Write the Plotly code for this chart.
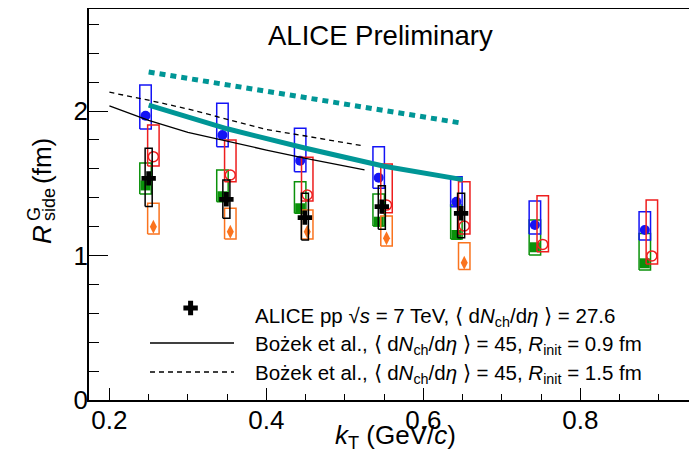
import plotly.graph_objects as go

# ---------------- data ----------------
kt_a = [0.246, 0.344, 0.443, 0.543, 0.642, 0.742, 0.882]   # blue / green
kt_b = [0.256, 0.354, 0.452, 0.553, 0.652, 0.752, 0.891]   # red / orange
kt_alice = [0.250, 0.349, 0.449, 0.547, 0.648]

r_blue = [1.967, 1.834, 1.656, 1.538, 1.372, 1.211, 1.176]
lo_blue = [1.875, 1.753, 1.580, 1.465, 1.338, 1.149, 1.107]
hi_blue = [2.180, 2.053, 1.880, 1.753, 1.545, 1.377, 1.303]

r_red = [1.684, 1.557, 1.419, 1.349, 1.204, 1.077, 0.997]
lo_red = [1.619, 1.511, 1.377, 1.296, 1.149, 1.026, 0.941]
hi_red = [1.903, 1.799, 1.680, 1.633, 1.511, 1.414, 1.384]

r_green = [1.485, 1.410, 1.327, 1.234, 1.142, 1.057, 0.946]
lo_green = [1.426, 1.372, 1.292, 1.204, 1.114, 1.003, 0.900]
hi_green = [1.640, 1.592, 1.511, 1.426, 1.349, 1.246, 1.153]

r_orange = [1.199, 1.165, 1.165, 1.119, 0.950]
lo_orange = [1.149, 1.114, 1.114, 1.066, 0.904]
hi_orange = [1.361, 1.327, 1.315, 1.273, 1.089]

r_alice = [1.534, 1.389, 1.262, 1.338, 1.292]
lo_alice = [1.340, 1.257, 1.107, 1.181, 1.123]
hi_alice = [1.742, 1.522, 1.430, 1.483, 1.430]

kt_bozek = [0.200, 0.250, 0.300, 0.350, 0.400, 0.450, 0.500, 0.525]
r_bozek_09 = [2.035, 1.935, 1.852, 1.790, 1.730, 1.672, 1.617, 1.592]
r_bozek_15 = [2.130, 2.075, 2.014, 1.945, 1.872, 1.827, 1.780, 1.757]

kt_model = [0.25, 0.35, 0.45, 0.55, 0.65]
r_teal_solid = [2.040, 1.877, 1.742, 1.618, 1.525]
r_teal_dot = [2.270, 2.180, 2.090, 2.000, 1.915]

x_ticks = [0.2, 0.4, 0.6, 0.8]
x_ticktext = ["0.2", "0.4", "0.6", "0.8"]
y_ticks = [0, 1, 2]
y_ticktext = ["0", "1", "2"]

title_text = "ALICE Preliminary"
legend_texts = [
    "ALICE pp √<i>s</i> = 7 TeV, ⟨ d<i>N</i><sub>ch</sub>/d<i>η</i> ⟩ = 27.6",
    "Bożek et al., ⟨ d<i>N</i><sub>ch</sub>/d<i>η</i> ⟩ = 45, <i>R</i><sub>init</sub> = 0.9 fm",
    "Bożek et al., ⟨ d<i>N</i><sub>ch</sub>/d<i>η</i> ⟩ = 45, <i>R</i><sub>init</sub> = 1.5 fm",
]

# ---------------- layout constants ----------------
OFF = 8                      # page body margin
W, H = 697 - OFF, 451 - OFF
ML, MR, MT, MB = 89 - OFF, 0, 9 - OFF, 51
PW, PH = W - ML - MR, H - MT - MB
FONT = "Liberation Sans, Arial, sans-serif"

BLUE = "rgb(20,20,245)"
RED = "rgb(238,30,30)"
GREEN = "rgb(10,145,10)"
ORANGE = "rgb(250,115,30)"
TEAL = "rgb(0,150,150)"


def pxx(x):
    """reference-picture pixel x -> paper coordinate"""
    return (x - OFF - ML) / PW


def pxy(y):
    """reference-picture pixel y -> paper coordinate"""
    return (H - MB - (y - OFF)) / PH


def box_path(xs, lo, hi, hw):
    X, Y = [], []
    for x, l, h in zip(xs, lo, hi):
        X += [x - hw, x + hw, x + hw, x - hw, x - hw, None]
        Y += [l, l, h, h, l, None]
    return X, Y


fig = go.Figure()


def add_series(xs, ys, lo, hi, color, symbol, size, hw, open_marker=False):
    bx, by = box_path(xs[:len(ys)], lo, hi, hw)
    fig.add_trace(go.Scatter(x=bx, y=by, mode="lines",
                             line=dict(color=color, width=1.5),
                             hoverinfo="skip", showlegend=False))
    marker = dict(symbol=symbol, size=size, color=color)
    if open_marker:
        marker["line"] = dict(color=color, width=1.5)
    else:
        marker["line"] = dict(width=0)
    fig.add_trace(go.Scatter(x=xs[:len(ys)], y=ys, mode="markers",
                             marker=marker, showlegend=False))


add_series(kt_a, r_green, lo_green, hi_green, GREEN, "square", 10, 0.0073)
add_series(kt_a, r_blue, lo_blue, hi_blue, BLUE, "circle", 10, 0.0073)
add_series(kt_b, r_red, lo_red, hi_red, RED, "circle-open", 10, 0.0073, True)
add_series(kt_b, r_orange, lo_orange, hi_orange, ORANGE, "diamond-tall", 10, 0.0073)
add_series(kt_alice, r_alice, lo_alice, hi_alice, "black", "cross", 12, 0.0045)

# model curves
fig.add_trace(go.Scatter(x=kt_bozek, y=r_bozek_09, mode="lines",
                         line=dict(color="black", width=1.3), showlegend=False))
fig.add_trace(go.Scatter(x=kt_bozek, y=r_bozek_15, mode="lines",
                         line=dict(color="black", width=1.3, dash="5px,4px"),
                         showlegend=False))
fig.add_trace(go.Scatter(x=kt_model, y=r_teal_solid, mode="lines",
                         line=dict(color=TEAL, width=5), showlegend=False))
fig.add_trace(go.Scatter(x=kt_model, y=r_teal_dot, mode="lines",
                         line=dict(color=TEAL, width=5, dash="6px,5px"),
                         showlegend=False))

# ---------------- legend (manual) ----------------
shapes = []
cx, cy, a, t = 190.6, 308, 7.2, 2.5
pts = [(a, t), (t, t), (t, a), (-t, a), (-t, t), (-a, t), (-a, -t), (-t, -t),
       (-t, -a), (t, -a), (t, -t), (a, -t)]
path = "M " + " L ".join(f"{pxx(cx + dx):.5f},{pxy(cy + dy):.5f}" for dx, dy in pts) + " Z"
shapes.append(dict(type="path", path=path, xref="paper", yref="paper",
                   fillcolor="black", line=dict(width=0)))
shapes.append(dict(type="line", xref="paper", yref="paper",
                   x0=pxx(150), x1=pxx(234), y0=pxy(343), y1=pxy(343),
                   line=dict(color="black", width=1.5)))
shapes.append(dict(type="line", xref="paper", yref="paper",
                   x0=pxx(150), x1=pxx(234), y0=pxy(372), y1=pxy(372),
                   line=dict(color="black", width=1.5, dash="5px,4px")))

annotations = []
for txt, yy in zip(legend_texts, [317, 345, 374]):
    annotations.append(dict(text=txt, x=pxx(253), y=pxy(yy), xref="paper", yref="paper",
                            xanchor="left", yanchor="middle", showarrow=False,
                            font=dict(family=FONT, size=20.5, color="black")))

annotations.append(dict(text=title_text, x=pxx(380), y=pxy(35), xref="paper", yref="paper",
                        xanchor="center", yanchor="middle", showarrow=False,
                        font=dict(family=FONT, size=27.5, color="black")))

# x title
annotations.append(dict(text="<i>k</i><sub>T</sub> (GeV/<i>c</i>)", x=pxx(395), y=pxy(436),
                        xref="paper", yref="paper", xanchor="center", yanchor="middle",
                        showarrow=False, font=dict(family=FONT, size=26, color="black")))
# y title pieces (rotated)
annotations.append(dict(text="<i>R</i>", x=pxx(42), y=pxy(235), xref="paper", yref="paper",
                        xanchor="center", yanchor="middle", textangle=-90, showarrow=False,
                        font=dict(family=FONT, size=26, color="black")))
annotations.append(dict(text="G", x=pxx(34), y=pxy(214), xref="paper", yref="paper",
                        xanchor="center", yanchor="middle", textangle=-90, showarrow=False,
                        font=dict(family=FONT, size=18, color="black")))
annotations.append(dict(text="side", x=pxx(49), y=pxy(205), xref="paper", yref="paper",
                        xanchor="center", yanchor="middle", textangle=-90, showarrow=False,
                        font=dict(family=FONT, size=18, color="black")))
annotations.append(dict(text="(fm)", x=pxx(42), y=pxy(161), xref="paper", yref="paper",
                        xanchor="center", yanchor="middle", textangle=-90, showarrow=False,
                        font=dict(family=FONT, size=26, color="black")))

fig.update_layout(
    width=W, height=H,
    margin=dict(l=ML, r=MR, t=MT, b=MB, pad=0),
    paper_bgcolor="white", plot_bgcolor="white",
    showlegend=False,
    font=dict(family=FONT, color="black"),
    shapes=shapes, annotations=annotations,
    xaxis=dict(range=[0.174, 0.9485], showgrid=False, zeroline=False,
               showline=True, linecolor="black", linewidth=1.5, mirror=True,
               ticks="inside", ticklen=12, tickwidth=1.3, tickcolor="black",
               tickvals=x_ticks, ticktext=x_ticktext, ticklabelstandoff=-4,
               tickfont=dict(family=FONT, size=26, color="black"),
               minor=dict(ticks="inside", ticklen=6, tickwidth=1.1, tickcolor="black",
                          dtick=0.05, tick0=0, showgrid=False)),
    yaxis=dict(range=[0, 2.706], showgrid=False, zeroline=False,
               showline=True, linecolor="black", linewidth=1.5, mirror=False,
               ticks="inside", ticklen=19, tickwidth=1.3, tickcolor="black",
               tickvals=y_ticks, ticktext=y_ticktext, ticklabelstandoff=-6,
               tickfont=dict(family=FONT, size=26, color="black"),
               minor=dict(ticks="inside", ticklen=10, tickwidth=1.1, tickcolor="black",
                          dtick=0.2, tick0=0, showgrid=False)),
)

fig.write_html("out.html")
